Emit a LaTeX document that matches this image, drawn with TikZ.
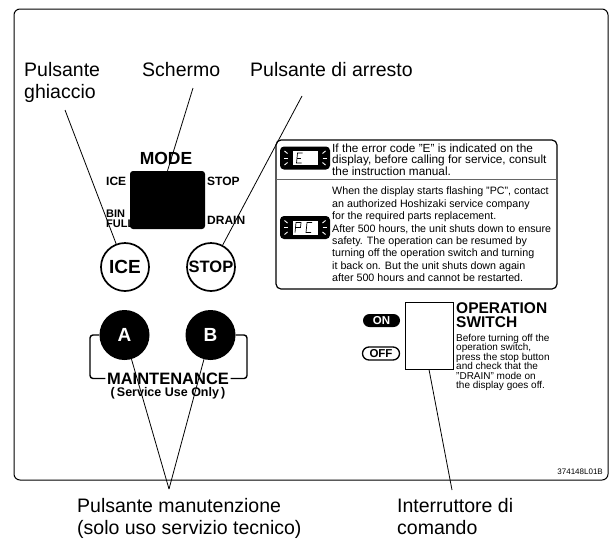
\documentclass[tikz,border=0pt]{standalone}
\usepackage{fontspec}
\setmainfont{Liberation Sans}
\newcommand\tightlines{\lineskiplimit=-20pt\lineskip=0pt\relax}
\tikzset{
  lbl/.style={inner sep=0pt, align=left, anchor=north west, font=\fontsize{19.5}{22}\selectfont},
  lead/.style={line width=0.8pt},
  panel/.style={line width=1pt, rounded corners=6pt},
  modetext/.style={inner sep=0pt, align=left, font=\fontsize{12}{10}\selectfont\bfseries\tightlines},
  btn/.style={draw, circle, line width=1.7pt, minimum size=48pt, inner sep=0pt, font=\fontsize{19}{19}\selectfont\bfseries},
  mbtn/.style={circle, fill=black, text=white, minimum size=50pt, inner sep=0pt, font=\fontsize{19}{19}\selectfont\bfseries},
  bracket/.style={line width=1.4pt, rounded corners=3pt},
  pill/.style={rounded corners=6.5pt, minimum width=37pt, minimum height=13pt, inner sep=0pt, font=\fontsize{11.5}{12}\selectfont\bfseries},
  seg/.style={line width=0.7pt},
  blink/.style={white, line width=0.9pt},
  note/.style={inner sep=0pt, align=left, anchor=north west},
}
% black display icon with blinking marks
\newcommand\dispicon{%
  \fill[rounded corners=4pt] (-25,-11.5) rectangle (25,11.5);
  \filldraw[fill=white, line width=0.6pt] (-13,-7.5) rectangle (13,7.5);
  \foreach \s in {-1,1} {
    \draw[blink] ({\s*17.5},-4.5) -- ({\s*20.5},-7);
    \draw[blink] ({\s*17.5},0) -- ({\s*21.5},0);
    \draw[blink] ({\s*17.5},4.5) -- ({\s*20.5},7);
  }}
\begin{document}
\begin{tikzpicture}[x=1pt,y=-1pt]
\useasboundingbox (0,0) rectangle (612,541);
\draw[panel] (14,9) rectangle (608,480);

% callout labels
\node[lbl] (lice) at (24,62) {Pulsante\\ghiaccio};
\node[lbl] (lscr) at (142,62) {Schermo};
\node[lbl] (lstop) at (250,62) {Pulsante di arresto};
\node[lbl] (lmaint) at (77,498) {Pulsante manutenzione\\(solo uso servizio tecnico)};
\node[lbl] (lsw) at (397,498) {Interruttore di\\comando};

% mode display
\node[font=\fontsize{17.5}{18}\selectfont\bfseries, inner sep=0pt] (mode) at (166,158.5) {MODE};
\node[fill=black, rounded corners=3pt, minimum width=75pt, minimum height=58pt, inner sep=0pt] (disp) at (167.5,200) {};
\node[modetext, anchor=west] (mice) at (106,181.5) {ICE};
\node[modetext, anchor=west] (mstop) at (207,181.5) {STOP};
\node[modetext, anchor=west, font=\fontsize{11}{10}\selectfont\bfseries\tightlines] (mbin) at (106,219) {BIN\\FULL};
\node[modetext, anchor=west] (mdrain) at (207,220) {DRAIN};

% buttons
\node[btn] (bice) at (125,267) {ICE};
\node[btn, font=\fontsize{16.5}{17}\selectfont\bfseries] (bstop) at (211,267) {STOP};
\node[mbtn] (ba) at (124.5,335) {A};
\node[mbtn] (bb) at (210.5,335) {B};
\node[font=\fontsize{16.5}{17}\selectfont\bfseries, inner sep=1.5pt] (maint) at (168,378.5) {MAINTENANCE};
\node[font=\fontsize{12.5}{13}\selectfont\bfseries, inner sep=0pt] (suo) at (168,393) {(\,Service Use Only\,)};
\coordinate (brl) at (90,378.5);
\coordinate (brr) at (247,378.5);
\draw[bracket] (ba.west) -| (brl) -- (maint.west);
\draw[bracket] (bb.east) -| (brr) -- (maint.east);

% error code box
\draw[line width=1.2pt, rounded corners=5pt] (276,140) rectangle (557,289);
\draw[line width=0.6pt, black!60] (276,179) -- (557,179);
\begin{scope}[shift={(305,158)}]
  \dispicon
  \draw[seg] (-2.5,-5) -- (-7.5,-5) -- (-8.5,5) -- (-3.5,5);
  \draw[seg] (-8,0) -- (-4,0);
\end{scope}
\begin{scope}[shift={(305,227.5)}]
  \dispicon
  \draw[seg] (-10,5) -- (-9,-5) -- (-4,-5) -- (-4.5,0) -- (-9.5,0);
  \draw[seg] (7,-5) -- (2,-5) -- (1,5) -- (6,5);
\end{scope}
\node[note, font=\fontsize{11.8}{11.2}\selectfont\tightlines] (errE) at (332,144) {If the error code "E" is indicated on the\\display, before calling for service, consult\\the instruction manual.};
\node[note, font=\fontsize{10.7}{12.4}\selectfont] (errPC) at (332,187) {When the display starts flashing "PC", contact\\an authorized Hoshizaki service company\\for the required parts replacement.\\After 500 hours, the unit shuts down to ensure\\safety. The operation can be resumed by\\turning off the operation switch and turning\\it back on. But the unit shuts down again\\after 500 hours and cannot be restarted.};

% operation switch
\node[pill, fill=black, text=white] (on) at (381.5,320.5) {ON};
\node[pill, draw, line width=1.3pt] (off) at (381,353.5) {OFF};
\node[draw, line width=1pt, minimum width=48pt, minimum height=67pt, inner sep=0pt] (sw) at (429,335.5) {};
\node[note, font=\fontsize{15.5}{14}\selectfont\bfseries\tightlines] (opsw) at (456,302) {OPERATION\\SWITCH};
\node[note, font=\fontsize{10}{9.5}\selectfont\tightlines] (opnote) at (456,334) {Before turning off the\\operation switch,\\press the stop button\\and check that the\\"DRAIN" mode on\\the display goes off.};
\node[font=\fontsize{8}{9}\selectfont, anchor=east, inner sep=0pt] (code) at (603,472) {374148L01B};

% leader lines
\coordinate (cice) at (65,110);
\coordinate (cscr) at (193,88);
\coordinate (cstop) at (302,96);
\coordinate (cmaint) at (169,489);
\coordinate (csw) at (452,490);
\draw[lead] (cice) -- (bice);
\draw[lead] (cscr) -- (disp.north);
\draw[lead] (cstop) -- (bstop);
\draw[lead] (cmaint) -- (ba);
\draw[lead] (cmaint) -- (bb);
\draw[lead] (csw) -- (sw.south);
\end{tikzpicture}
\end{document}
